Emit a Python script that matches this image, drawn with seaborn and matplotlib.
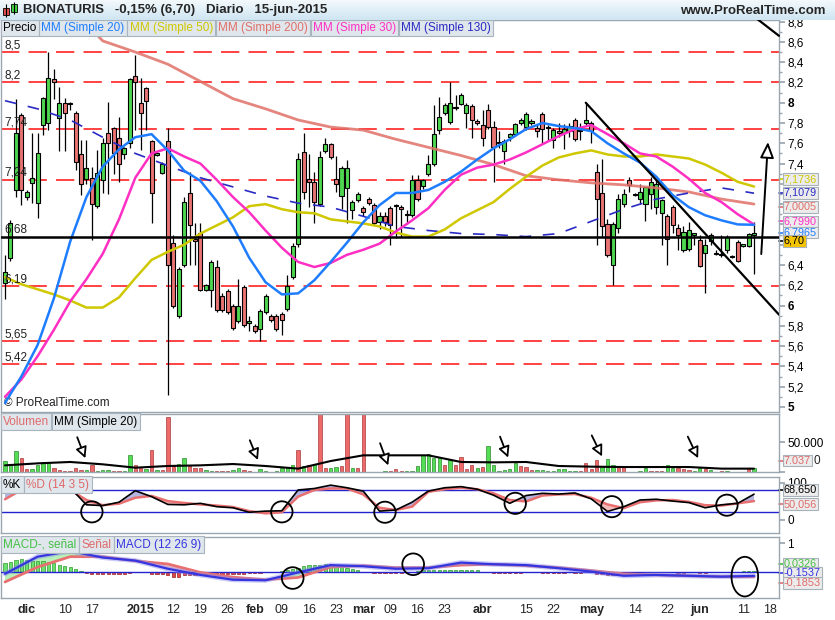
import numpy as np
import pandas as pd
import matplotlib
matplotlib.use("Agg")
import matplotlib.pyplot as plt
import seaborn as sns
from matplotlib.colors import LinearSegmentedColormap
from matplotlib.patches import Ellipse, Rectangle

# ---- daily candles (last session 15-jun-2015) ----
last_session = "2015-06-15"
holidays = ["2014-12-25", "2014-12-26", "2015-01-01", "2015-04-03", "2015-04-06", "2015-05-01"]

opens = [6.22, 6.47, 7.14, 7.88, 7.07, 7.21, 7.01, 7.78, 7.80, 8.23,
         7.85, 8.00, 8.00, 7.90, 7.49, 7.25, 7.26, 6.98, 7.24, 7.70,
         7.75, 7.65, 7.49, 7.60, 8.26, 8.00, 8.15, 7.62, 7.48, 7.31,
         7.62, 6.62, 5.90, 6.40, 7.11, 6.66, 6.72, 6.15, 6.15, 6.38,
         6.09, 6.14, 6.00, 5.85, 6.18, 5.83, 5.80, 5.77, 5.94, 5.90,
         5.90, 5.92, 5.97, 6.28, 6.61, 7.51, 7.25, 7.22, 7.00, 7.52,
         7.59, 7.25, 7.08, 7.16, 6.94, 7.04, 6.96, 7.05, 6.99, 6.82,
         6.88, 6.96, 6.98, 6.97, 6.89, 6.89, 7.24, 7.18, 7.30, 7.40,
         7.73, 7.90, 7.81, 7.95, 7.99, 7.90, 7.97, 7.82, 7.78, 7.93,
         7.76, 7.60, 7.52, 7.66, 7.69, 7.80, 7.76, 7.80, 7.75, 7.89,
         7.75, 7.63, 7.72, 7.70, 7.72, 7.83, 7.72, 7.80, 7.80, 7.32,
         7.11, 6.80, 6.40, 6.76, 7.00, 7.24, 7.10, 7.05, 7.00, 7.10,
         6.97, 6.91, 6.88, 6.97, 6.76, 6.55, 6.56, 6.70, 6.65, 6.52,
         6.64, 6.51, 6.50, 6.55, 6.48, 6.63, 6.59, 6.59, 6.70]
highs = [6.50, 6.84, 8.04, 7.90, 7.14, 7.70, 7.70, 8.06, 8.50, 8.33,
         8.16, 8.05, 8.01, 7.92, 7.63, 7.63, 7.37, 7.53, 7.65, 8.01,
         7.76, 7.86, 7.56, 8.24, 8.47, 8.24, 8.16, 7.63, 7.51, 7.42,
         7.75, 6.70, 6.38, 7.07, 7.32, 6.81, 6.81, 6.21, 6.45, 6.45,
         6.12, 6.16, 6.02, 6.26, 6.20, 5.90, 5.82, 5.97, 6.11, 5.92,
         5.92, 5.94, 6.30, 6.62, 7.50, 7.70, 7.49, 7.32, 7.52, 7.65,
         7.60, 7.47, 7.38, 7.44, 7.04, 7.12, 6.98, 7.07, 7.01, 6.92,
         6.92, 6.98, 7.00, 6.99, 6.94, 7.29, 7.29, 7.25, 7.48, 7.98,
         8.06, 8.00, 8.20, 8.08, 8.10, 8.00, 7.99, 7.84, 7.93, 7.99,
         7.82, 7.72, 7.64, 7.70, 7.80, 7.85, 7.91, 7.84, 7.78, 7.91,
         7.78, 7.75, 7.80, 7.79, 7.80, 7.85, 7.80, 8.00, 7.82, 7.40,
         7.45, 6.85, 6.82, 7.10, 7.15, 7.27, 7.11, 7.20, 7.17, 7.27,
         7.25, 7.05, 6.90, 6.99, 6.80, 6.78, 6.82, 6.72, 6.70, 6.66,
         6.72, 6.55, 6.70, 6.70, 6.50, 6.65, 6.60, 6.72, 6.82]
lows = [6.06, 6.44, 7.07, 6.99, 7.04, 7.01, 6.86, 7.68, 7.73, 8.04,
        7.52, 7.52, 7.93, 7.34, 7.09, 7.20, 6.65, 6.96, 7.11, 7.10,
        7.30, 7.22, 7.45, 7.55, 7.73, 7.53, 7.73, 6.81, 7.47, 7.30,
        5.12, 5.98, 5.88, 6.38, 6.40, 6.40, 6.14, 6.14, 5.99, 5.94,
        5.94, 5.92, 5.76, 5.83, 5.79, 5.75, 5.73, 5.65, 5.92, 5.84,
        5.75, 5.71, 5.95, 6.26, 6.58, 7.05, 6.97, 6.81, 6.98, 7.50,
        7.45, 7.12, 6.95, 6.81, 6.85, 7.02, 6.88, 6.99, 6.79, 6.75,
        6.78, 6.60, 6.67, 6.68, 6.80, 6.87, 7.03, 7.15, 7.28, 7.38,
        7.69, 7.88, 7.79, 7.93, 7.98, 7.75, 7.65, 7.78, 7.57, 7.74,
        7.22, 7.55, 7.40, 7.62, 7.67, 7.78, 7.73, 7.78, 7.66, 7.60,
        7.62, 7.55, 7.66, 7.54, 7.66, 7.62, 7.63, 7.78, 7.60, 6.60,
        6.68, 6.48, 6.20, 6.72, 6.97, 7.12, 7.08, 7.00, 6.83, 6.95,
        6.90, 6.60, 6.40, 6.72, 6.55, 6.53, 6.54, 6.60, 6.38, 6.12,
        6.60, 6.50, 6.48, 6.52, 6.47, 6.43, 6.58, 6.58, 6.31]
closes = [6.33, 6.81, 7.70, 7.14, 7.12, 7.26, 7.50, 8.05, 8.24, 8.20,
          8.00, 7.90, 7.99, 7.42, 7.20, 7.36, 7.00, 7.31, 7.60, 7.60,
          7.50, 7.40, 7.55, 8.23, 8.20, 7.90, 8.02, 7.11, 7.50, 7.40,
          6.40, 6.00, 6.36, 7.02, 6.79, 6.64, 6.15, 6.20, 6.43, 5.96,
          5.96, 5.94, 5.78, 6.00, 5.81, 5.85, 5.75, 5.95, 6.09, 5.86,
          5.77, 5.86, 6.19, 6.59, 7.45, 7.12, 7.22, 7.02, 7.46, 7.59,
          7.46, 7.20, 7.36, 7.36, 7.02, 7.10, 6.92, 7.01, 6.81, 6.88,
          6.82, 6.79, 6.99, 6.95, 6.90, 7.24, 7.05, 7.24, 7.40, 7.69,
          7.86, 7.98, 8.00, 7.96, 8.08, 7.98, 7.83, 7.80, 7.65, 7.76,
          7.56, 7.61, 7.62, 7.69, 7.79, 7.83, 7.89, 7.82, 7.72, 7.74,
          7.76, 7.73, 7.70, 7.74, 7.77, 7.64, 7.73, 7.83, 7.72, 7.05,
          6.78, 6.50, 6.80, 7.05, 7.10, 7.19, 7.09, 7.12, 7.17, 7.22,
          7.20, 7.04, 6.66, 6.79, 6.70, 6.73, 6.74, 6.70, 6.39, 6.60,
          6.70, 6.51, 6.50, 6.68, 6.48, 6.44, 6.59, 6.71, 6.70]

# volume in thousands of shares, colour as drawn (g = up, r = down)
volume = [17.8, 13.9, 34.4, 23.9, 5.6, 5.6, 12.2, 16.7, 15.6, 7.2,
          2.8, 1.5, 1.5, 7.2, 2.8, 2.8, 11.1, 1.7, 2.8, 3.9,
          1.5, 1.5, 1.5, 28.9, 12.2, 7.2, 5.6, 36.1, 2.8, 2.8,
          91.7, 11.1, 13.9, 23.3, 9.4, 7.2, 7.2, 2.8, 1.5, 2.5,
          2.5, 2.5, 3.9, 7.2, 3.9, 1.5, 0.5, 5.6, 1.5, 0.5,
          1.5, 7.2, 8.3, 11.1, 36.1, 9.4, 11.1, 13.9, 120.0, 6.7,
          6.7, 8.3, 9.4, 120.0, 7.2, 6.7, 120.0, 0.5, 0.5, 0.5,
          1.5, 2.5, 5.6, 2.5, 2.5, 2.0, 9.4, 28.9, 30.6, 23.3,
          25.0, 12.2, 19.4, 12.2, 25.0, 5.6, 12.2, 7.2, 8.3, 43.3,
          11.1, 1.5, 3.9, 5.6, 15.6, 10.0, 8.3, 3.9, 3.9, 3.9,
          1.5, 2.5, 5.6, 5.6, 2.5, 2.5, 1.5, 15.6, 4.4, 19.4,
          10.0, 21.1, 11.1, 8.3, 8.3, 0.5, 0.5, 2.5, 7.2, 2.5,
          1.5, 1.5, 12.2, 7.2, 7.2, 4.4, 3.9, 2.5, 7.2, 5.6,
          3.9, 0.3, 1.5, 1.5, 0.3, 0.3, 0.3, 7.2, 7.037]
volume_dir = ("gggrrggggrrrrrrgrgggrrggrrgrgrrrggrrrggrrrggrrgggrgggg"
              "rgrgrrggrrgrrrgrgrrrgggggggrgrrrrgrggggggrrrggggggggrrrrg"
              "ggrrgrggrrrggrrrggrggr")

# fast moving averages, read every 3rd session
fast_step = 3
ma20 = [5.04, 5.30, 5.61, 6.07, 6.63, 7.07, 7.37, 7.54, 7.66, 7.69, 7.53, 7.33,
        7.23, 7.03, 6.78, 6.47, 6.23, 6.11, 6.12, 6.25, 6.43, 6.62, 6.82, 6.99,
        7.11, 7.11, 7.14, 7.22, 7.32, 7.44, 7.55, 7.64, 7.74, 7.80, 7.77, 7.75,
        7.72, 7.60, 7.50, 7.41, 7.27, 7.09, 6.97, 6.89, 6.84, 6.80, 6.7965]
ma30 = [5.10, 5.27, 5.50, 5.76, 6.04, 6.26, 6.51, 6.85, 7.26, 7.50, 7.55, 7.47,
        7.40, 7.24, 7.07, 6.92, 6.74, 6.57, 6.43, 6.38, 6.42, 6.50, 6.55, 6.61,
        6.73, 6.84, 6.96, 7.14, 7.29, 7.36, 7.39, 7.44, 7.51, 7.59, 7.67, 7.74,
        7.78, 7.69, 7.60, 7.50, 7.47, 7.37, 7.25, 7.11, 7.02, 6.90, 6.799]
ma50 = [6.28, 6.21, 6.16, 6.11, 6.05, 5.98, 5.98, 6.08, 6.27, 6.45, 6.53, 6.60,
        6.71, 6.79, 6.87, 6.98, 7.00, 6.95, 6.92, 6.91, 6.85, 6.83, 6.81, 6.78,
        6.72, 6.68, 6.68, 6.75, 6.86, 6.94, 7.02, 7.15, 7.27, 7.38, 7.46, 7.50,
        7.53, 7.49, 7.47, 7.47, 7.49, 7.47, 7.45, 7.39, 7.31, 7.22, 7.1736]

# slow moving averages, read every 6th session
slow_step = 6
ma200 = [np.nan, np.nan, 8.95, 8.61, 8.50, 8.38, 8.21, 8.04, 7.94, 7.83, 7.76, 7.73,
         7.64, 7.56, 7.48, 7.39, 7.28, 7.24, 7.21, 7.19, 7.16, 7.12, 7.05, 7.0005]
ma130 = [8.02, 7.94, 7.83, 7.66, 7.50, 7.38, 7.26, 7.17, 7.08, 7.01, 6.97, 6.88,
         6.78, 6.74, 6.71, 6.70, 6.68, 6.71, 6.83, 6.95, 7.05, 7.11, 7.16, 7.1079]
vol_ma20 = [11.1, 14.4, 16.7, 12.8, 7.2, 10.0, 11.1, 13.3, 10.0, 5.6, 18.3, 27.8,
            27.8, 27.8, 16.7, 16.1, 16.7, 10.0, 8.9, 8.3, 8.3, 8.3, 5.6, 5.6]

# stochastic (14 3 5), read every 3rd session
pct_k = [85, 96, 95, 93, 86, 40, 38, 47, 78, 62, 41, 40, 44, 35, 32, 20,
         23, 24, 80, 84, 93, 86, 77, 23, 26, 47, 77, 86, 89, 82, 66, 44,
         65, 71, 69, 72, 56, 22, 35, 53, 55, 50, 46, 32, 40, 44, 68.65]
pct_d = [55, 80, 93, 92, 80, 53, 39, 43, 59, 64, 50, 45, 41, 38, 34, 23,
         17, 20, 62, 80, 84, 84, 68, 32, 26, 35, 75, 82, 86, 82, 71, 53,
         49, 65, 68, 69, 59, 41, 31, 47, 52, 53, 48, 39, 38, 44, 50.056]

# MACD (12 26 9), lines every 6th session, histogram every session
macd = [-0.08, 0.53, 0.73, 0.50, 0.39, 0.10, -0.12, -0.29, -0.31, -0.03, 0.23, 0.19,
        0.10, 0.12, 0.32, 0.26, 0.23, 0.12, 0.0, -0.15, -0.12, -0.15, -0.18, -0.1537]
signal = [-0.37, 0.16, 0.53, 0.53, 0.38, 0.27, -0.03, -0.20, -0.29, -0.21, 0.16, 0.21,
          0.14, 0.14, 0.23, 0.26, 0.21, 0.14, 0.035, -0.08, -0.12, -0.15, -0.18, -0.1853]
macd_hist = [0.29, 0.33, 0.41, 0.43, 0.41, 0.38, 0.38, 0.36, 0.33, 0.29,
             0.23, 0.21, 0.17, 0.08, 0.035, -0.05, -0.07, -0.07, -0.07, -0.07,
             -0.07, -0.07, -0.07, -0.05, -0.02, 0.0, 0.0, -0.07, -0.07, -0.07,
             -0.12, -0.20, -0.18, -0.12, -0.12, -0.12, -0.10, -0.10, -0.08, -0.07,
             -0.07, -0.07, -0.07, -0.07, -0.07, -0.06, -0.05, -0.04, 0.0, 0.0,
             0.0, 0.02, 0.04, 0.08, 0.14, 0.20, 0.23, 0.23, 0.23, 0.26,
             0.26, 0.23, 0.20, 0.14, 0.08, 0.04, 0.0, 0.0, -0.05, -0.05,
             -0.05, -0.05, -0.05, -0.05, -0.02, 0.0, 0.02, 0.05, 0.06, 0.07,
             0.07, 0.07, 0.07, 0.07, 0.06, 0.06, 0.05, 0.04, 0.0, 0.0,
             -0.05, -0.05, -0.05, -0.05, -0.05, -0.05, 0.0, 0.0, 0.0, -0.05,
             -0.05, -0.05, -0.05, -0.05, 0.0, -0.05, -0.05, 0.0, 0.0, -0.07,
             -0.10, -0.12, -0.12, -0.10, -0.08, -0.07, -0.05, -0.03, 0.0, 0.0,
             0.0, 0.0, 0.0, 0.0, -0.04, -0.04, 0.0, 0.0, -0.04, -0.04,
             0.0, 0.0, 0.0, 0.0, 0.0, 0.0, 0.03, 0.03, 0.0326]

# support / resistance levels drawn by hand on the chart
levels = [8.5, 8.2, 7.74, 7.24, 6.19, 5.65, 5.42]
pivot = 6.68

tick_dates = ["2014-12-01", "2014-12-10", "2014-12-17", "2015-01-02", "2015-01-12",
              "2015-01-19", "2015-01-26", "2015-02-02", "2015-02-09", "2015-02-16",
              "2015-02-23", "2015-03-02", "2015-03-09", "2015-03-16", "2015-03-23",
              "2015-04-01", "2015-04-15", "2015-04-22", "2015-05-04", "2015-05-14",
              "2015-05-22", "2015-06-01", "2015-06-11", "2015-06-18"]
tick_labels = ["dic", "10", "17", "2015", "12", "19", "26", "feb", "09", "16", "23",
               "mar", "09", "16", "23", "abr", "15", "22", "may", "14", "22", "jun",
               "11", "18"]
bold_labels = {"dic", "2015", "feb", "mar", "abr", "may", "jun"}

GREEN = "#4fd64f"
RED = "#e87474"
C_MA20 = "#1e7dff"
C_MA50 = "#cfc800"
C_MA200 = "#e07068"
C_MA30 = "#ff2fc4"
C_MA130 = "#2a2ac4"
SPINE = "#9aa6b0"

W, H = 835, 620


def frame(top, bottom, left=1, right=779):
    return [left / W, 1 - bottom / H, (right - left) / W, (bottom - top) / H]


def comma(v, nd):
    return f"{v:.{nd}f}".replace(".", ",")


def style_axis(ax):
    for s in ax.spines.values():
        s.set_color(SPINE)
        s.set_linewidth(1)
    ax.yaxis.tick_right()
    ax.tick_params(axis="y", which="both", direction="out", colors=SPINE,
                   labelcolor="black", labelsize=8.5, length=4, pad=2)
    ax.tick_params(axis="y", which="minor", length=2)
    ax.tick_params(axis="x", length=0, labelbottom=False)
    ax.set_xlabel("")
    ax.set_ylabel("")


def tag(ax, y, text, color, face="#ececec"):
    tr = ax.get_yaxis_transform()
    ax.plot([1.0, 1.012], [y, y], transform=tr, color=color, lw=1.2, clip_on=False)
    ax.text(1.006, y, text, transform=tr, ha="left", va="center", fontsize=7.8,
            color=color, clip_on=False, zorder=10,
            bbox=dict(boxstyle="square,pad=0.08", fc=face, ec="#a8b2ba", lw=0.8))


def label_row(fig, ax, items, x0_px, y_frac):
    # chain of little grey boxes with coloured captions in the top-left corner
    renderer = fig.canvas.get_renderer()
    x = x0_px
    for text, color in items:
        bbox_ax = ax.get_window_extent(renderer)
        t = ax.text((x - bbox_ax.x0) / bbox_ax.width, y_frac, text,
                    transform=ax.transAxes, ha="left", va="top", fontsize=8.5,
                    color=color, zorder=12,
                    bbox=dict(boxstyle="square,pad=0.2", fc="#dfe6ec", ec="#a8b4be", lw=0.8))
        w = t.get_window_extent(renderer).width
        x += w + 5


sns.set_theme(style="white")
plt.rcParams["font.family"] = ["Liberation Sans", "DejaVu Sans"]

fig = plt.figure(figsize=(W / 100, H / 100), dpi=100)
fig.patch.set_facecolor("white")

ax_p = fig.add_axes(frame(20, 412))
ax_v = fig.add_axes(frame(414, 472), sharex=ax_p)
ax_s = fig.add_axes(frame(477, 533), sharex=ax_p)
ax_m = fig.add_axes(frame(537, 598), sharex=ax_p)

# trading calendar -> session index
cal = pd.bdate_range("2014-11-01", "2015-06-30")
cal = cal[~cal.isin(pd.to_datetime(holidays))]
first = cal.get_loc(pd.Timestamp(last_session)) - len(closes) + 1
tick_pos = [cal.get_loc(pd.Timestamp(d)) - first for d in tick_dates]

n = len(closes)
x = np.arange(n)
o, hi, lo, c = (np.array(a) for a in (opens, highs, lows, closes))
fast_days = np.arange(0, n, fast_step)
slow_days = np.arange(0, n, slow_step)

# ---------------- price panel ----------------
for lvl in levels:
    ax_p.axhline(lvl, color="#ff1010", lw=1.1, dashes=(12, 6), zorder=1)
    ax_p.text(0.004, lvl + 0.01, comma(lvl, 2).rstrip("0").rstrip(","),
              transform=ax_p.get_yaxis_transform(), fontsize=8.5, va="bottom",
              color="#222222", zorder=8)
ax_p.axhline(pivot, color="black", lw=1.8, zorder=6)
ax_p.text(0.004, pivot + 0.01, comma(pivot, 2), transform=ax_p.get_yaxis_transform(),
          fontsize=8.5, va="bottom", color="#222222", zorder=8)

ax_p.vlines(x, lo, hi, color="black", lw=0.9, zorder=3)
body_col = np.where(c >= o, GREEN, RED)
ax_p.bar(x, np.maximum(np.abs(c - o), 0.012), bottom=np.minimum(o, c), width=0.75,
         color=body_col, edgecolor="black", linewidth=0.8, zorder=4)

sns.lineplot(x=slow_days, y=ma200, ax=ax_p, color=C_MA200, lw=2.0, alpha=0.85, zorder=5)
sns.lineplot(x=slow_days, y=ma130, ax=ax_p, color=C_MA130, lw=1.2, linestyle=(0, (7, 7)), zorder=5)
sns.lineplot(x=fast_days, y=ma50, ax=ax_p, color=C_MA50, lw=1.8, zorder=5)
sns.lineplot(x=fast_days, y=ma30, ax=ax_p, color=C_MA30, lw=1.8, zorder=5)
sns.lineplot(x=fast_days, y=ma20, ax=ax_p, color=C_MA20, lw=1.8, zorder=5)

# hand-drawn trend lines and arrow
ax_p.plot([107, 142.6], [8.0, 5.91], color="black", lw=1.6, zorder=6)
ax_p.plot([136.8, 142.6], [8.90, 8.66], color="black", lw=1.6, zorder=6, clip_on=False)
ax_p.annotate("", xy=(140.6, 7.64), xytext=(139.3, 6.48),
              arrowprops=dict(arrowstyle="-|>,head_length=0.8,head_width=0.35",
                              fc="white", ec="black", lw=1.4), zorder=7)

ax_p.set_ylim(4.95, 8.816)
ax_p.set_xlim(-0.74, 142.6)
style_axis(ax_p)
# tick labels from 6,6 to 7,2 sit under the value tags, as on the original
hidden = {6.6, 6.8, 7.0, 7.2}
yt = np.round(np.arange(5.0, 8.81, 0.2), 1)
ax_p.set_yticks(yt, ["" if v in hidden else (comma(v, 0) if v == int(v) else comma(v, 1))
                     for v in yt])
ax_p.set_yticks(np.round(np.arange(5.1, 8.81, 0.2), 1), minor=True)
for t in ax_p.get_yticklabels():
    if t.get_text() and "," not in t.get_text():
        t.set_fontweight("bold")
ax_p.text(0.004, 0.008, "\u00a9 ProRealTime.com", transform=ax_p.transAxes,
          fontsize=8.5, va="bottom", color="#222222")

tag(ax_p, 7.245, comma(ma50[-1], 4), C_MA50)
tag(ax_p, 7.11, comma(ma130[-1], 4), C_MA130)
tag(ax_p, 6.975, comma(ma200[-1], 4), C_MA200)
tag(ax_p, 6.83, comma(ma30[-1], 4), C_MA30)
tag(ax_p, 6.72, comma(ma20[-1], 4), C_MA20)
tag(ax_p, 6.64, comma(closes[-1], 2), "black", face="#f5c400")

# ---------------- volume panel ----------------
vol_col = ["#55dd55" if d == "g" else "#ec6a6a" for d in volume_dir]
vol_edge = ["#2d8a2d" if d == "g" else "#a83a3a" for d in volume_dir]
ax_v.bar(x, volume, width=0.62, color=vol_col, edgecolor=vol_edge, linewidth=0.5, zorder=2)
sns.lineplot(x=slow_days, y=vol_ma20, ax=ax_v, color="black", lw=1.5, zorder=3)
ax_v.set_ylim(0, 96.7)
style_axis(ax_v)
ax_v.set_yticks([0, 50], ["", "50.000"])
tag(ax_v, 19, "7.037", "#e06a6a")
ax_v.text(1.044, 19, "0", transform=ax_v.get_yaxis_transform(), fontsize=8.5,
          va="center", ha="left", clip_on=False)

vol_arrows = [((13.3, 58), (14.8, 23)), ((45.1, 53), (46.6, 20)), ((69.1, 48), (70.6, 11)),
              ((91.2, 59), (92.7, 24)), ((108.1, 61), (110.0, 26)), ((125.8, 59), (127.7, 23))]
for (x1, y1), (x2, y2) in vol_arrows:
    ax_v.annotate("", xy=(x2, y2), xytext=(x1, y1),
                  arrowprops=dict(arrowstyle="-|>,head_length=0.55,head_width=0.28",
                                  fc="white", ec="black", lw=1.3,
                                  shrinkA=0, shrinkB=0), zorder=5)

# ---------------- stochastic panel ----------------
k = np.array(pct_k)
d = np.array(pct_d)
ax_s.fill_between(fast_days, k, d, where=k >= d, interpolate=True, color="#b4b4e0", lw=0, zorder=1)
ax_s.fill_between(fast_days, k, d, where=k < d, interpolate=True, color="#f5bcbc", lw=0, zorder=1)
ax_s.axhline(80, color="#2323d0", lw=1.0, zorder=2)
ax_s.axhline(20, color="#2323d0", lw=1.0, zorder=2)
sns.lineplot(x=fast_days, y=pct_d, ax=ax_s, color="#e87070", lw=1.8, zorder=3)
sns.lineplot(x=fast_days, y=pct_k, ax=ax_s, color="black", lw=1.2, zorder=4)
ax_s.set_ylim(-36, 115)
style_axis(ax_s)
ax_s.set_yticks([0, 100], ["0", "100"])
tag(ax_s, 80, comma(pct_k[-1], 3), "black")
tag(ax_s, 42, comma(pct_d[-1], 3), "#e06a6a")
for cx, cy in [(16, 21), (51, 21), (70, 20), (94, 44), (111.8, 35), (133, 39)]:
    ax_s.add_patch(Ellipse((cx, cy), 3.95, 57, fill=False, ec="black", lw=1.3, zorder=6))

# ---------------- MACD panel ----------------
m = np.array(macd)
s = np.array(signal)
ax_m.fill_between(slow_days, m, s, where=m >= s, interpolate=True, color="#b8f0b8", lw=0, zorder=1)
ax_m.fill_between(slow_days, m, s, where=m < s, interpolate=True, color="#f5c4c4", lw=0, zorder=1)
hist = np.array(macd_hist)
ax_m.bar(x, hist, width=0.6, color=np.where(hist > 0, "#6ee06e", "#d84848"),
         edgecolor=np.where(hist > 0, "#2a9a2a", "#a02020"), linewidth=0.5, zorder=2)
ax_m.axhline(0, color="#2323d0", lw=1.0, zorder=3)
sns.lineplot(x=slow_days, y=signal, ax=ax_m, color="#e87070", lw=2.0, zorder=4)
sns.lineplot(x=slow_days, y=macd, ax=ax_m, color="#8a8af0", lw=3.6, alpha=0.45, zorder=5)
sns.lineplot(x=slow_days, y=macd, ax=ax_m, color="#3535e0", lw=1.6, zorder=6)
ax_m.set_ylim(-0.94, 1.23)
style_axis(ax_m)
ax_m.set_yticks([1], ["1"])
tag(ax_m, 0.27, comma(macd_hist[-1], 4), "#44c044")
tag(ax_m, -0.05, comma(macd[-1], 4), "#3535e0")
tag(ax_m, -0.40, comma(signal[-1], 4), "#e06a6a")
ax_m.add_patch(Ellipse((53, -0.23), 4.0, 0.77, fill=False, ec="black", lw=1.3, zorder=7))
ax_m.add_patch(Ellipse((75.2, 0.26), 4.0, 0.77, fill=False, ec="black", lw=1.3, zorder=7))
ax_m.add_patch(Ellipse((136.3, -0.18), 4.9, 1.41, fill=False, ec="black", lw=1.3, zorder=7))

ax_m.set_xticks(tick_pos, tick_labels)
ax_m.tick_params(axis="x", labelbottom=True, labelsize=9, pad=4, length=0)
for t in ax_m.get_xticklabels():
    if t.get_text() in bold_labels:
        t.set_fontweight("bold")

# ---------------- header bar ----------------
ax_h = fig.add_axes([0, 1 - 20 / H, 1, 20 / H])
grad = LinearSegmentedColormap.from_list("hdr", ["#f3f9fc", "#cfe5f2"])
ax_h.imshow(np.linspace(0, 1, 40).reshape(-1, 1), cmap=grad, aspect="auto",
            extent=[0, W, 20, 0])
ax_h.set_xlim(0, W)
ax_h.set_ylim(20, 0)
ax_h.axis("off")
ax_h.vlines([6, 14], [4, 2], [17, 14], color="black", lw=0.8)
ax_h.add_patch(Rectangle((3, 8), 6, 7, fc="#e05050", ec="black", lw=0.6))
ax_h.add_patch(Rectangle((11, 4), 6, 8, fc="#40d040", ec="black", lw=0.6))
ax_h.text(23, 10.5, "BIONATURIS   -0,15% (6,70)   Diario   15-jun-2015",
          fontsize=9.5, fontweight="bold", va="center", ha="left")
ax_h.text(826, 10.5, "www.ProRealTime.com", fontsize=9.5, fontweight="bold",
          va="center", ha="right")

# caption boxes
label_row(fig, ax_p, [("Precio", "black"), ("MM (Simple 20)", C_MA20), ("MM (Simple 50)", C_MA50),
                      ("MM (Simple 200)", C_MA200), ("MM (Simple 30)", C_MA30),
                      ("MM (Simple 130)", C_MA130)], 3, 0.995)
label_row(fig, ax_v, [("Volumen", "#e06a6a"), ("MM (Simple 20)", "black")], 3, 0.97)
label_row(fig, ax_s, [("%K", "black"), ("%D (14 3 5)", "#e06a6a")], 3, 0.97)
label_row(fig, ax_m, [("MACD-, se\u00f1al", "#44c044"), ("Se\u00f1al", "#e06a6a"),
                      ("MACD (12 26 9)", "#3535e0")], 3, 0.97)

fig.savefig("out.png", dpi=100)
